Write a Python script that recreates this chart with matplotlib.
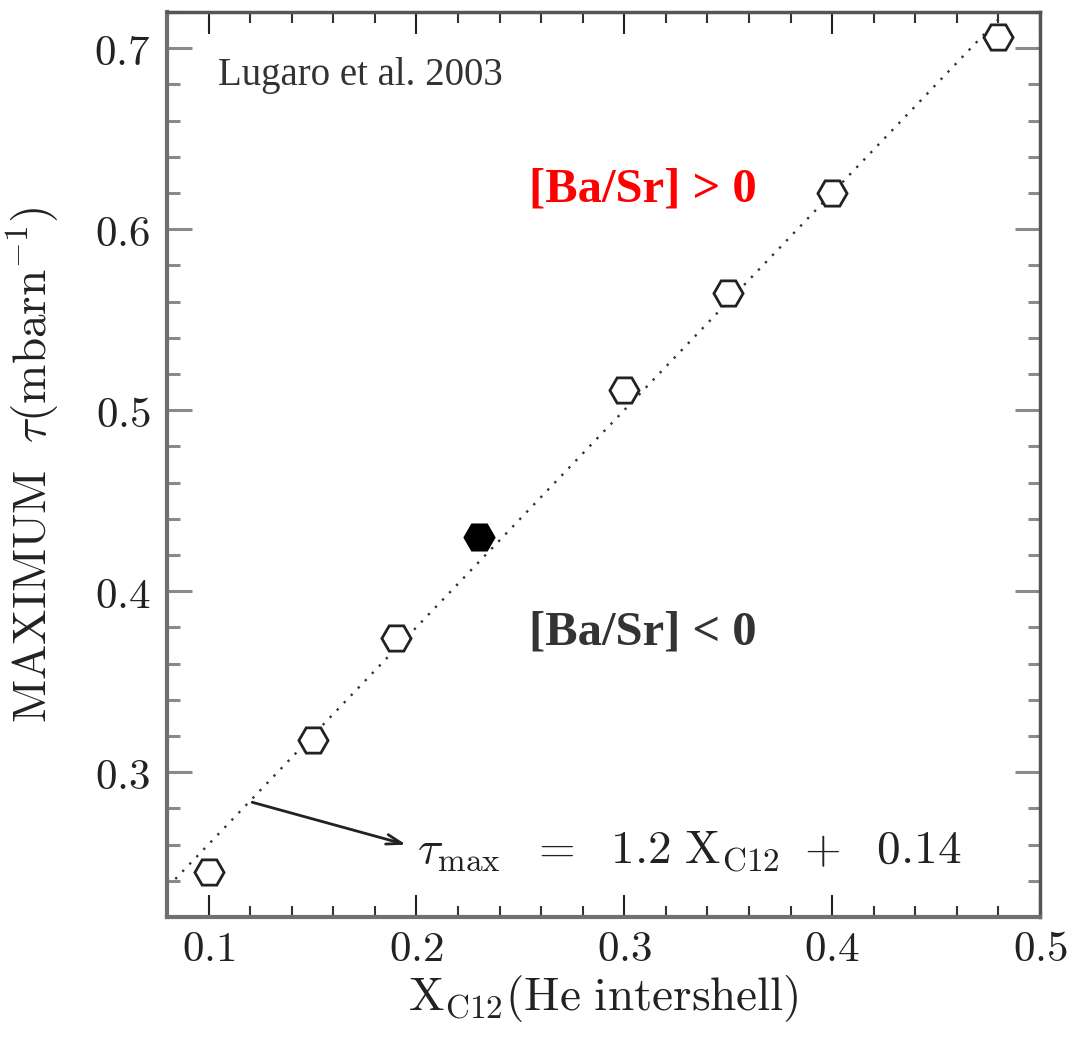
import numpy as np
import matplotlib
matplotlib.use('Agg')
import matplotlib.pyplot as plt
from matplotlib.ticker import MultipleLocator, FuncFormatter

plt.rcParams['mathtext.fontset'] = 'cm'

# open points: x = C12 mass fraction, y = max tau
x_open = [0.10, 0.15, 0.19, 0.30, 0.35, 0.40, 0.48]
y_open = [0.245, 0.318, 0.374, 0.511, 0.565, 0.620, 0.706]
# filled point
x_fill = [0.23]
y_fill = [0.430]
# fitted line ends
fit_x = [0.084, 0.48]
fit_y = [0.241, 0.716]

fig = plt.figure(figsize=(10.72, 10.46), dpi=100)
ax = fig.add_axes([0.1558, 0.1233, 0.8144, 0.8652])

ax.plot(fit_x, fit_y, color='#333333', lw=1.7, dashes=(1, 3.3), zorder=1)
ax.plot(x_open, y_open, ls='none', marker='H', ms=21, mfc='white',
        mec='#222222', mew=2, zorder=3)
ax.plot(x_fill, y_fill, ls='none', marker='H', ms=21, mfc='black',
        mec='black', mew=2, zorder=3)

ax.set_xlim(0.08, 0.5)
ax.set_ylim(0.22, 0.72)

ax.xaxis.set_major_locator(MultipleLocator(0.1))
ax.xaxis.set_minor_locator(MultipleLocator(0.02))
ax.yaxis.set_major_locator(MultipleLocator(0.1))
ax.yaxis.set_minor_locator(MultipleLocator(0.02))
fmt = FuncFormatter(lambda v, p: '$%.1f$' % v)
ax.xaxis.set_major_formatter(fmt)
ax.yaxis.set_major_formatter(fmt)

ax.tick_params(which='both', direction='in', top=True, right=True)
ax.tick_params(axis='x', which='major', length=16, width=1.5, color='#222222',
               labelsize=31, pad=8, labelcolor='#222222')
ax.tick_params(axis='x', which='minor', length=8, width=1.5, color='#333333')
ax.tick_params(axis='y', which='major', length=18, width=2.2, color='#8a8a8a',
               labelsize=31, pad=12, labelcolor='#222222')
ax.tick_params(axis='y', which='minor', length=9, width=2.2, color='#8a8a8a')

for s in ['left', 'bottom']:
    ax.spines[s].set_color('#707070')
    ax.spines[s].set_linewidth(3)
for s in ['top', 'right']:
    ax.spines[s].set_color('#555555')
    ax.spines[s].set_linewidth(2.5)

ax.set_xlabel(r'$\mathrm{X}_{\mathrm{C12}}(\mathrm{He\ intershell})$',
              fontsize=34, color='#222222')
ax.xaxis.set_label_coords(0.5, -0.062)
ax.set_ylabel(r'$\mathrm{MAXIMUM}\ \ \tau(\mathrm{mbarn}^{-1})$',
              fontsize=34, color='#222222')
ax.yaxis.set_label_coords(-0.12, 0.5)

ax.text(0.1045, 0.685, 'Lugaro et al. 2003', fontsize=28, color='#333333',
        family='Liberation Serif', ha='left', va='center')
ax.text(0.254, 0.622, '[Ba/Sr] > 0', fontsize=35, color='#ff0000',
        family='Liberation Serif', weight='bold', ha='left', va='center')
ax.text(0.254, 0.377, '[Ba/Sr] < 0', fontsize=35, color='#333333',
        family='Liberation Serif', weight='bold', ha='left', va='center')

ax.annotate('', xy=(0.195, 0.260), xytext=(0.121, 0.2834),
            arrowprops=dict(arrowstyle='->,head_length=1.1,head_width=0.35',
                            color='#222222', lw=2, shrinkA=0, shrinkB=0))
ax.text(0.2005, 0.257,
        r'$\tau_{\mathrm{max}}\ \ =\ \ 1.2\ \mathrm{X}_{\mathrm{C12}}\ +\ \ 0.14$',
        fontsize=34, color='#222222', ha='left', va='center')

fig.savefig('out.png', dpi=100)
